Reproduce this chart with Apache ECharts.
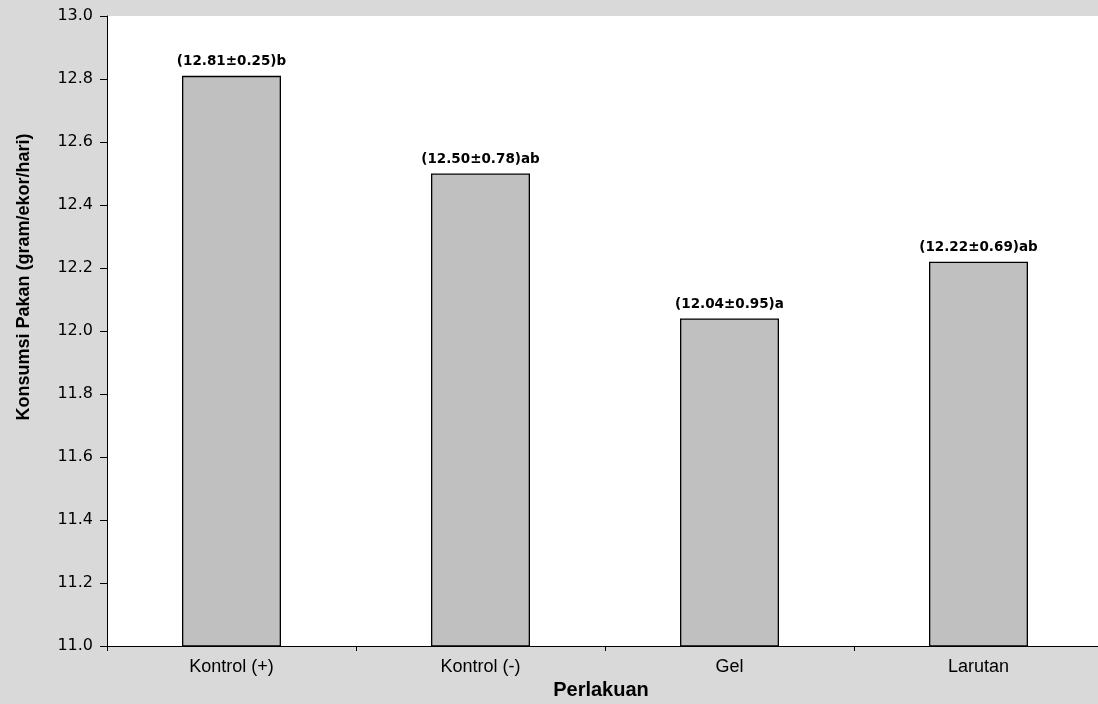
<!DOCTYPE html>
<html>
<head>
<meta charset="utf-8">
<script src="https://cdn.jsdelivr.net/npm/echarts@6/dist/echarts.min.js"></script>
<style>
html,body{margin:0;padding:0;background:#d9d9d9;}
#c{width:1098px;height:704px;}
</style>
</head>
<body>
<div id="c"></div>
<script>
var categories = ['Kontrol (+)', 'Kontrol (-)', 'Gel', 'Larutan'];
var values = [12.81, 12.50, 12.04, 12.22];
var barLabels = ['(12.81±0.25)b', '(12.50±0.78)ab', '(12.04±0.95)a', '(12.22±0.69)ab'];
var yTicks = [11.0, 11.2, 11.4, 11.6, 11.8, 12.0, 12.2, 12.4, 12.6, 12.8, 13.0];

var chart = echarts.init(document.getElementById('c'), null, {renderer: 'canvas'});
var arial = '"Liberation Sans", Arial, sans-serif';
var dejavu = '"DejaVu Sans", sans-serif';
chart.setOption({
  backgroundColor: '#d9d9d9',
  animation: false,
  grid: {left: 107, top: 16, width: 996, bottom: 58, show: true, backgroundColor: '#ffffff', borderWidth: 0,
         containLabel: false, outerBoundsMode: 'none'},
  xAxis: {
    type: 'category',
    data: categories,
    name: 'Perlakuan',
    nameLocation: 'middle',
    nameGap: 34,
    nameTextStyle: {fontFamily: arial, fontSize: 20, fontWeight: 'bold', color: '#000', padding: [0, 8, 0, 0]},
    axisLine: {lineStyle: {color: '#000', width: 1}},
    axisTick: {show: true, alignWithLabel: false, interval: 0, length: 5, lineStyle: {color: '#000'}},
    axisLabel: {fontFamily: arial, fontSize: 18, color: '#000', margin: 12}
  },
  yAxis: {
    type: 'value',
    min: yTicks[0],
    max: yTicks[yTicks.length - 1],
    interval: 0.2,
    name: 'Konsumsi Pakan (gram/ekor/hari)',
    nameLocation: 'middle',
    nameGap: 74,
    nameRotate: 90,
    nameTextStyle: {fontFamily: arial, fontSize: 18, fontWeight: 'bold', color: '#000', padding: [0, 0, 0, 108]},
    splitLine: {show: false},
    axisLine: {show: true, lineStyle: {color: '#000', width: 1}},
    axisTick: {show: true, length: 7, lineStyle: {color: '#000'}},
    axisLabel: {fontFamily: dejavu, fontSize: 16, color: '#000', margin: 14,
      formatter: function (v) { return v.toFixed(1); }}
  },
  series: [{
    type: 'bar',
    data: values,
    barWidth: 99,
    itemStyle: {color: '#c0c0c0', borderColor: '#000', borderWidth: 1.3},
    label: {
      show: true,
      position: 'top',
      distance: 7,
      fontFamily: dejavu,
      fontSize: 13.5,
      fontWeight: 'bold',
      color: '#000',
      formatter: function (p) { return barLabels[p.dataIndex]; }
    }
  }]
});
</script>
</body>
</html>
